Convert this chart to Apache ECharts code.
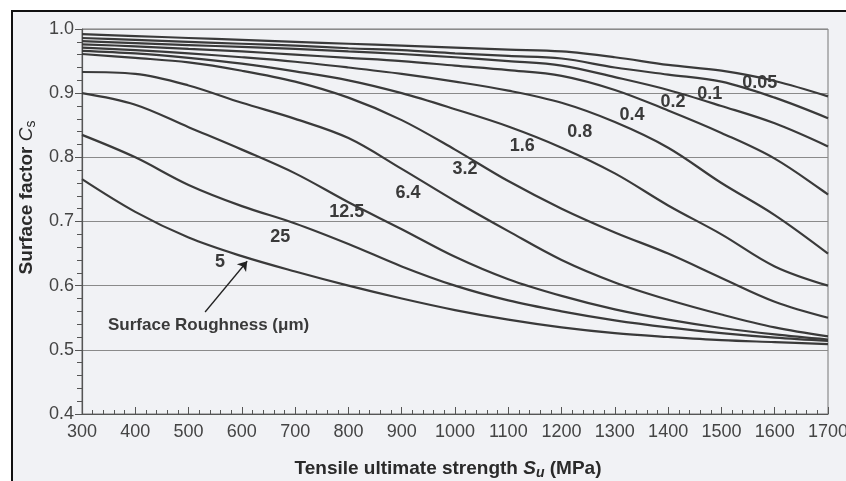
<!DOCTYPE html>
<html>
<head>
<meta charset="utf-8">
<script src="https://cdn.jsdelivr.net/npm/echarts@6/dist/echarts.min.js"></script>
<style>
  html,body{margin:0;padding:0;background:#fff;}
  #main{width:846px;height:481px;}
</style>
</head>
<body>
<div id="main"></div>
<script>
// tensile strength (MPa) sampled every 100
var strength = [300,400,500,600,700,800,900,1000,1100,1200,1300,1400,1500,1600,1700];

// surface factor Cs per roughness curve (um)
var cs_005 = [0.992,0.989,0.986,0.983,0.980,0.977,0.974,0.971,0.968,0.965,0.956,0.944,0.935,0.919,0.895];
var cs_01  = [0.986,0.983,0.980,0.977,0.974,0.970,0.967,0.962,0.958,0.954,0.940,0.929,0.918,0.893,0.861];
var cs_02  = [0.981,0.978,0.975,0.972,0.969,0.965,0.961,0.956,0.950,0.943,0.925,0.905,0.880,0.853,0.817];
var cs_04  = [0.976,0.973,0.969,0.965,0.960,0.955,0.950,0.943,0.936,0.927,0.905,0.873,0.838,0.798,0.742];
var cs_08  = [0.971,0.967,0.962,0.956,0.949,0.940,0.930,0.918,0.904,0.885,0.855,0.815,0.760,0.710,0.650];
var cs_16  = [0.966,0.962,0.955,0.946,0.934,0.920,0.900,0.875,0.848,0.815,0.775,0.725,0.680,0.630,0.600];
var cs_32  = [0.961,0.955,0.948,0.935,0.918,0.893,0.858,0.812,0.763,0.720,0.683,0.650,0.612,0.575,0.550];
var cs_64  = [0.933,0.930,0.912,0.885,0.860,0.830,0.782,0.732,0.685,0.640,0.605,0.578,0.555,0.535,0.521];
var cs_125 = [0.900,0.882,0.847,0.812,0.775,0.730,0.688,0.645,0.610,0.584,0.563,0.547,0.534,0.524,0.516];
var cs_25  = [0.835,0.800,0.757,0.724,0.697,0.665,0.630,0.600,0.577,0.560,0.546,0.535,0.526,0.519,0.514];
var cs_5   = [0.766,0.715,0.675,0.646,0.622,0.600,0.580,0.562,0.547,0.535,0.526,0.520,0.515,0.512,0.509];

var roughness = ['0.05','0.1','0.2','0.4','0.8','1.6','3.2','6.4','12.5','25','5'];
var curves = [cs_005,cs_01,cs_02,cs_04,cs_08,cs_16,cs_32,cs_64,cs_125,cs_25,cs_5];

// where each curve's number is written (MPa, Cs)
var labelAt = [[1572,0.916],[1478,0.898],[1409,0.886],[1332,0.866],[1234,0.840],[1126,0.818],
               [1019,0.782],[912,0.745],[797,0.714],[672,0.676],[559,0.637]];

var ink = '#3a3a3a';
var myChart = echarts.init(document.getElementById('main'));

var series = [];
for (var i = 0; i < curves.length; i++) {
  var pts = [];
  for (var j = 0; j < strength.length; j++) pts.push([strength[j], curves[i][j]]);
  var s = {
    name: roughness[i],
    type: 'line',
    data: pts,
    smooth: 0.35,
    symbol: 'none',
    silent: true,
    lineStyle: {color: ink, width: 2.2},
    markPoint: {
      symbol: 'circle', symbolSize: 0, silent: true,
      label: {show: true, formatter: roughness[i], color: ink, fontSize: 18, fontWeight: 'bold',
              fontFamily: 'Liberation Sans', position: 'inside'},
      data: [{coord: labelAt[i]}]
    }
  };
  if (roughness[i] === '5') {
    s.markLine = {
      silent: true,
      symbol: ['none', 'arrow'],
      symbolSize: 9,
      label: {show: false},
      lineStyle: {color: '#222', width: 1.3, type: 'solid'},
      data: [[{coord: [531, 0.559]}, {coord: [610, 0.638]}]]
    };
  }
  series.push(s);
}

var option = {
  backgroundColor: '#ffffff',
  animation: false,
  textStyle: {fontFamily: 'Liberation Sans'},
  graphic: [
    {type: 'rect', z: -5, shape: {x: 12, y: 11, width: 860, height: 490},
     style: {fill: '#f1f2f5', stroke: '#111', lineWidth: 2}},
    {type: 'text', left: 108, top: 317, z: 10,
     style: {text: 'Surface Roughness (\u03bcm)', fill: ink, font: 'bold 17px Liberation Sans'}}
  ],
  grid: {left: 82, right: 18, top: 29, bottom: 67, show: true, borderColor: '#777', borderWidth: 1,
         outerBoundsMode: 'none', containLabel: false},
  xAxis: {
    type: 'value', min: 300, max: 1700, interval: 100,
    name: '{b|Tensile ultimate strength }{i|S}{sub|u}{b| (MPa)}',
    nameLocation: 'middle', nameGap: 43,
    nameTextStyle: {
      padding: [0, 14, 0, 0],
      rich: {
        b: {fontSize: 19, fontWeight: 'bold', color: '#2a2a2a', fontFamily: 'Liberation Sans'},
        i: {fontSize: 19, fontWeight: 'bold', fontStyle: 'italic', color: '#2a2a2a', fontFamily: 'Liberation Sans'},
        sub: {fontSize: 14, fontWeight: 'bold', fontStyle: 'italic', color: '#2a2a2a', fontFamily: 'Liberation Sans', padding: [9, 0, 0, 0]}
      }
    },
    axisLine: {lineStyle: {color: '#555', width: 1.2}},
    axisTick: {inside: true, length: 7, lineStyle: {color: '#555'}},
    minorTick: {show: true, splitNumber: 5, length: 4, lineStyle: {color: '#555'}},
    axisLabel: {color: '#444', fontSize: 18, margin: 9, formatter: function (v) { return String(v); }},
    splitLine: {show: false}
  },
  yAxis: {
    type: 'value', min: 0.4, max: 1.0, interval: 0.1,
    name: '{b|Surface factor }{i|C}{sub|s}',
    nameLocation: 'middle', nameGap: 44,
    nameTextStyle: {
      padding: [0, 0, 0, 48],
      rich: {
        b: {fontSize: 19, fontWeight: 'bold', color: '#2a2a2a', fontFamily: 'Liberation Sans'},
        i: {fontSize: 19, fontStyle: 'italic', color: '#2a2a2a', fontFamily: 'Liberation Sans'},
        sub: {fontSize: 14, color: '#2a2a2a', fontFamily: 'Liberation Sans', padding: [9, 0, 0, 0]}
      }
    },
    axisLine: {show: true, lineStyle: {color: '#555', width: 1.2}},
    axisTick: {show: true, inside: false, length: 7, lineStyle: {color: '#555'}},
    minorTick: {show: true, splitNumber: 5, length: 5, lineStyle: {color: '#555'}},
    axisLabel: {color: '#444', fontSize: 18, margin: 8, formatter: function (v) { return v.toFixed(1); }},
    splitLine: {show: true, lineStyle: {color: '#8a8a8a', width: 1}}
  },
  series: series
};

myChart.setOption(option);
</script>
</body>
</html>
